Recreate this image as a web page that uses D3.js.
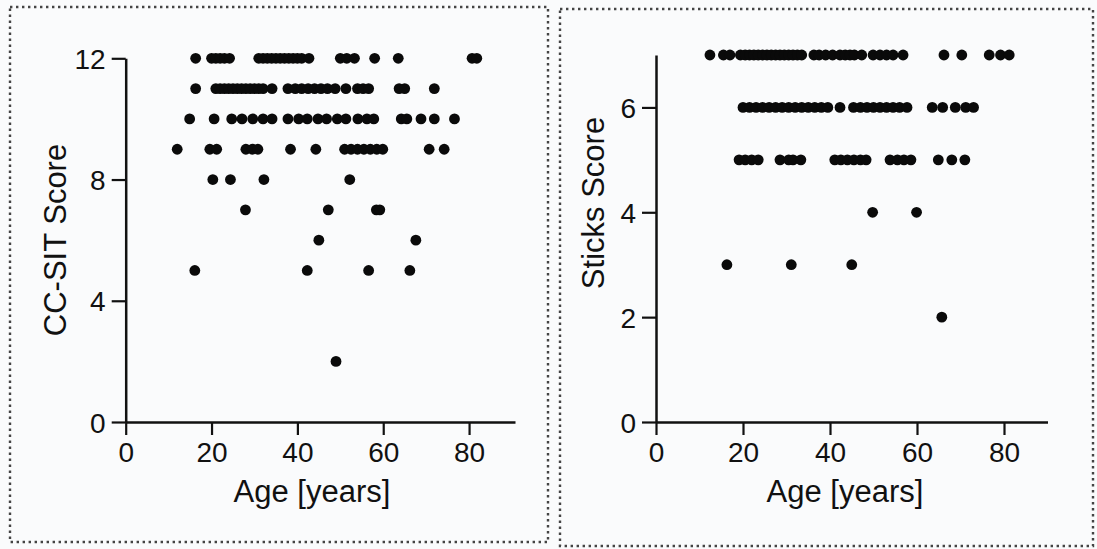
<!DOCTYPE html>
<html>
<head>
<meta charset="utf-8">
<script src="https://cdn.jsdelivr.net/npm/d3@7"></script>
<style>
  html, body { margin: 0; padding: 0; background: #fafbfc; }
  svg { display: block; font-family: "Liberation Sans", Arial, Helvetica, sans-serif; }
</style>
</head>
<body>
<svg id="chart" width="1097" height="549"></svg>
<script>
// ── Data ───────────────────────────────────────────────────

// Left panel: CC-SIT score vs age, one age list per score row
const ccsitScores = [12, 11, 10, 9, 8, 7, 6, 5, 2];
const ccsitAges = [
    [16.3, 20, 21, 22, 23, 24.2, 31, 32, 33, 34, 35, 36, 37, 38, 39, 40, 41, 42.7, 50, 51.5, 53.3, 58, 63.5, 80.7, 81.8],
    [16.3, 21, 22, 23, 24, 25, 26, 27, 28, 29, 30, 31, 32, 34.1, 37.8, 39.5, 41, 42.5, 44, 45.5, 47, 48.8, 51.3, 54, 55.3, 56.6, 63.7, 65, 71.9],
    [14.9, 20.6, 24.7, 27.1, 29.6, 32, 34.1, 37.8, 40.3, 42.3, 44.8, 46.8, 49.3, 51.3, 54.1, 56.2, 57.8, 64.2, 65.5, 68.8, 71.9, 76.6],
    [12, 19.6, 21.2, 28, 29.5, 30.8, 38.4, 44.3, 51, 52.5, 54, 55.5, 57, 58.5, 59.9, 70.7, 74.2],
    [20.3, 24.4, 32.2, 52.2],
    [27.9, 47.2, 58.4, 59.2],
    [45, 67.6],
    [16.1, 42.3, 56.6, 66.2],
    [49]
];

// Right panel: Sticks score vs age
const sticksScores = [7, 6, 5, 4, 3, 2];
const sticksAges = [
    [12.4, 15.5, 17, 19.4, 20.5, 21.5, 22.5, 23.5, 24.5, 25.5, 26.5, 27.5, 28.5, 29.5, 30.5, 31.5, 32.5, 33.5,
     36.3, 37.5, 39, 40.6, 42.3, 43.5, 44.6, 45.6, 47.3, 49.9, 51.5, 53, 54.5, 56.8, 66.2, 70.3, 76.6, 79.2, 81.2],
    [20, 21.5, 23, 24.5, 26, 27.5, 29, 30.5, 32, 33.5, 35, 36.5, 38, 39.5, 42.3, 45.4, 47, 48.5, 50, 51.5, 53, 54.5, 56, 57.7,
     63.5, 65.9, 68.8, 71.2, 73],
    [19.1, 20.5, 22, 23.5, 28.5, 30.5, 31.5, 33.3, 41.1, 42.5, 44, 45.5, 47, 48.3, 53.8, 55.5, 57, 58.6, 64.9, 68, 71],
    [49.8, 59.9],
    [16.3, 31.1, 45],
    [65.7]
];

const ageTicks    = [0, 20, 40, 60, 80];
const ccsitTicks  = [0, 4, 8, 12];
const sticksTicks = [0, 2, 4, 6];

// ── Layout ─────────────────────────────────────────────────

const INK = '#111';
const DOT_R = 5.4;

const svg = d3.select('#chart');

const panels = [
    {
        box: [10, 7, 548, 542],
        x: d3.scaleLinear().domain([0, 90.7]).range([125.7, 515]),
        y: d3.scaleLinear().domain([0, 12]).range([422, 58.3]),
        yTicks: ccsitTicks,
        scores: ccsitScores,
        ages: ccsitAges,
        yTitle: 'CC-SIT Score',
        yTitlePos: [66, 240],
        xTitlePos: [312, 502]
    },
    {
        box: [560, 9, 1093, 546],
        x: d3.scaleLinear().domain([0, 90]).range([656, 1047.5]),
        y: d3.scaleLinear().domain([0, 7]).range([422, 55]),
        yTicks: sticksTicks,
        scores: sticksScores,
        ages: sticksAges,
        yTitle: 'Sticks Score',
        yTitlePos: [604, 203],
        xTitlePos: [845, 502]
    }
];

const fmt = d3.format('d');

panels.forEach(p => {
    // dotted frame
    const [x0, y0, x1, y1] = p.box;
    svg.append('rect')
        .attr('x', x0).attr('y', y0)
        .attr('width', x1 - x0).attr('height', y1 - y0)
        .attr('fill', 'none')
        .attr('stroke', '#444')
        .attr('stroke-width', 2.4)
        .attr('stroke-dasharray', '2.4 3.6');

    const g = svg.append('g');

    // x axis
    const xAxis = g.append('g')
        .attr('transform', `translate(0,${p.y(0)})`)
        .call(d3.axisBottom(p.x).tickValues(ageTicks).tickFormat(fmt)
            .tickSizeInner(13).tickSizeOuter(0).tickPadding(7));

    // y axis
    const yAxis = g.append('g')
        .attr('transform', `translate(${p.x(0)},0)`)
        .call(d3.axisLeft(p.y).tickValues(p.yTicks).tickFormat(fmt)
            .tickSizeInner(14).tickSizeOuter(0).tickPadding(6));

    [xAxis, yAxis].forEach(a => {
        a.select('.domain').attr('stroke', INK).attr('stroke-width', 2.5);
        a.selectAll('.tick line').attr('stroke', INK).attr('stroke-width', 2.2);
        a.selectAll('.tick text')
            .attr('fill', INK)
            .style('font-size', '28px')
            .style('font-family', '"Liberation Sans", Arial, Helvetica, sans-serif');
    });
    yAxis.selectAll('.tick text').attr('dy', '0.36em');
    xAxis.selectAll('.tick text').attr('dy', '0.72em');

    // axis titles
    g.append('text')
        .attr('transform', `translate(${p.yTitlePos[0]},${p.yTitlePos[1]}) rotate(-90)`)
        .attr('text-anchor', 'middle')
        .attr('font-size', 31)
        .attr('fill', INK)
        .text(p.yTitle);

    g.append('text')
        .attr('x', p.xTitlePos[0])
        .attr('y', p.xTitlePos[1])
        .attr('text-anchor', 'middle')
        .attr('font-size', 31)
        .attr('fill', INK)
        .text('Age [years]');

    // points
    const pts = [];
    p.scores.forEach((s, i) => p.ages[i].forEach(a => pts.push({ age: a, score: s })));

    g.selectAll('circle.pt')
        .data(pts)
        .join('circle')
        .attr('class', 'pt')
        .attr('cx', d => p.x(d.age))
        .attr('cy', d => p.y(d.score))
        .attr('r', DOT_R)
        .attr('fill', '#0a0a0a');
});
</script>
</body>
</html>
